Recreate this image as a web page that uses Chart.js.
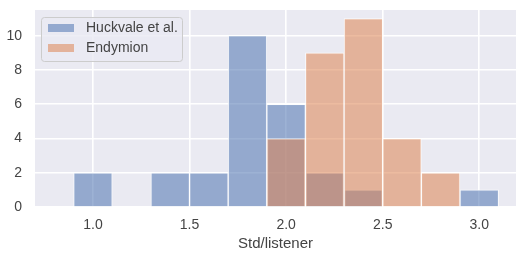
<!DOCTYPE html>
<html>
<head>
<meta charset="utf-8">
<script src="https://cdn.jsdelivr.net/npm/chart.js@4"></script>
<style>
  html, body { margin: 0; padding: 0; background: #fff; }
  #wrap { width: 517px; height: 253px; }
</style>
</head>
<body>
<div id="wrap"><canvas id="chart" width="517" height="253"></canvas></div>
<script>
// bin centres (bin width 0.2)
const binCenters = [1.0, 1.2, 1.4, 1.6, 1.8, 2.0, 2.2, 2.4, 2.6, 2.8, 3.0];
const huckvale = [2, 0, 2, 2, 10, 6, 2, 1, 0, 0, 1];
const endymion = [0, 0, 0, 0, 0, 4, 9, 11, 4, 2, 0];
const seriesLabels = ['Huckvale et al.', 'Endymion'];
const xTicks = [1.0, 1.5, 2.0, 2.5, 3.0];
const yTicks = [0, 2, 4, 6, 8, 10];

const FONT = "'Liberation Sans', Arial, sans-serif";
const TEXT = '#444444';

const toPoints = (vals) => binCenters.map((x, i) => ({ x: x, y: vals[i] || null }));

const plotBg = {
  id: 'plotBg',
  beforeDraw(chart) {
    const { ctx, chartArea: a } = chart;
    ctx.save();
    ctx.fillStyle = '#EAEAF2';
    ctx.fillRect(a.left, a.top, a.right - a.left, a.bottom - a.top);
    ctx.restore();
  }
};

// matplotlib-style legend inside the axes
const innerLegend = {
  id: 'innerLegend',
  afterDraw(chart) {
    const { ctx, chartArea: a } = chart;
    const x = a.left + 6, y = a.top + 7, w = 141, h = 44;
    ctx.save();
    ctx.beginPath();
    ctx.roundRect(x + 0.5, y + 0.5, w, h, 3);
    ctx.fillStyle = 'rgba(234,234,242,0.8)';
    ctx.fill();
    ctx.strokeStyle = '#cccccc';
    ctx.lineWidth = 1;
    ctx.stroke();
    ctx.font = '14px ' + FONT;
    ctx.textBaseline = 'middle';
    chart.data.datasets.forEach((ds, i) => {
      const sy = y + 7 + i * 20;
      ctx.fillStyle = ds.backgroundColor;
      ctx.fillRect(x + 7, sy, 26, 8);
      ctx.fillStyle = TEXT;
      ctx.fillText(ds.label, x + 45, sy + 4.5);
    });
    ctx.restore();
  }
};

new Chart(document.getElementById('chart'), {
  type: 'bar',
  data: {
    datasets: [
      {
        label: seriesLabels[0],
        data: toPoints(huckvale),
        backgroundColor: 'rgba(76,114,176,0.55)',
        borderColor: 'rgba(255,255,255,0.75)',
        borderWidth: 1,
        order: 2
      },
      {
        label: seriesLabels[1],
        data: toPoints(endymion),
        backgroundColor: 'rgba(221,132,82,0.55)',
        borderColor: 'rgba(255,255,255,0.75)',
        borderWidth: 1,
        order: 1
      }
    ]
  },
  options: {
    responsive: false,
    animation: false,
    layout: { padding: { top: 10, right: 1, left: 0, bottom: 0 } },
    datasets: { bar: { grouped: false, barPercentage: 1, categoryPercentage: 1 } },
    plugins: { legend: { display: false }, tooltip: { enabled: false } },
    scales: {
      x: {
        type: 'linear',
        min: 0.7,
        max: 3.19,
        offset: false,
        afterFit(s) { s.height = 46; s.paddingLeft = 0; s.paddingRight = 0; },
        afterBuildTicks(s) { s.ticks = xTicks.map(v => ({ value: v })); },
        grid: { color: '#ffffff', lineWidth: 1.6, drawTicks: false, offset: false },
        border: { display: false },
        ticks: {
          padding: 10,
          color: TEXT,
          font: { family: FONT, size: 14 },
          callback: v => v.toFixed(1)
        },
        title: {
          display: true,
          text: 'Std/listener',
          color: TEXT,
          font: { family: FONT, size: 15 },
          padding: { top: 0, bottom: 0 }
        }
      },
      y: {
        min: 0,
        max: 11.5,
        afterFit(s) { s.width = 35; s.paddingTop = 0; s.paddingBottom = 0; },
        afterBuildTicks(s) { s.ticks = yTicks.map(v => ({ value: v })); },
        grid: { color: '#ffffff', lineWidth: 1.6, drawTicks: false },
        border: { display: false },
        ticks: {
          padding: 13,
          color: TEXT,
          font: { family: FONT, size: 14 }
        }
      }
    }
  },
  plugins: [plotBg, innerLegend]
});
</script>
</body>
</html>
